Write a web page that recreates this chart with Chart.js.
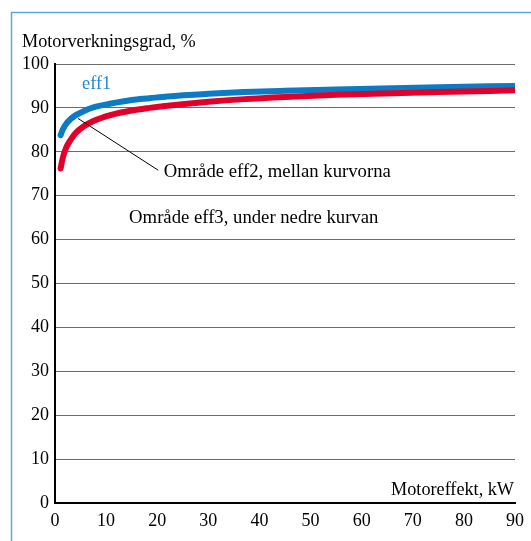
<!DOCTYPE html>
<html>
<head>
<meta charset="utf-8">
<script src="https://cdn.jsdelivr.net/npm/chart.js@4/dist/chart.umd.min.js"></script>
<style>
html,body{margin:0;padding:0;background:#fff;}
#wrap{position:relative;width:531px;height:541px;}
</style>
</head>
<body>
<div id="wrap"><canvas id="c" width="531" height="541"></canvas></div>
<script>
const power = [1.1, 1.5, 2.2, 3, 4, 5.5, 7.5, 11, 15, 18.5, 22, 30, 37, 45, 55, 75, 90];
const eff1Limit = [83.8, 85, 86.4, 87.4, 88.3, 89.2, 90.1, 91, 91.8, 92.2, 92.6, 93.2, 93.6, 93.9, 94.2, 94.7, 95.0];
const eff2Limit = [76.2, 78.5, 81, 82.6, 84.2, 85.7, 87, 88.4, 89.4, 90, 90.5, 91.4, 92, 92.5, 93, 93.6, 94.0];
const xTicks = [0, 10, 20, 30, 40, 50, 60, 70, 80, 90];
const yTicks = [0, 10, 20, 30, 40, 50, 60, 70, 80, 90, 100];
const yTitle = "Motorverkningsgrad, %";
const xTitle = "Motoreffekt, kW";
const labelEff1 = "eff1";
const labelEff2 = "Område eff2, mellan kurvorna";
const labelEff3 = "Område eff3, under nedre kurvan";

const FONT = "'Liberation Serif', 'Times New Roman', serif";

const deco = {
  id: 'deco',
  beforeDraw(chart) {
    const ctx = chart.ctx;
    ctx.save();
    ctx.strokeStyle = '#5aa8e0';
    ctx.lineWidth = 1.5;
    ctx.beginPath();
    ctx.moveTo(11.5, 545);
    ctx.lineTo(11.5, 12.5);
    ctx.lineTo(535, 12.5);
    ctx.stroke();
    ctx.restore();
  },
  afterDatasetsDraw(chart) {
    const ctx = chart.ctx;
    const xs = chart.scales.x, ys = chart.scales.y;
    const px = v => xs.getPixelForValue(v), py = v => ys.getPixelForValue(v);
    ctx.save();
    ctx.font = '18.2px ' + FONT;
    ctx.textBaseline = 'middle';
    ctx.fillStyle = '#000';
    ctx.textAlign = 'left';
    ctx.fillText(yTitle, 22, 42);
    ctx.textAlign = 'right';
    ctx.fillText(xTitle, chart.chartArea.right - 1, 490);
    ctx.textAlign = 'left';
    ctx.fillStyle = '#2589cf';
    ctx.fillText(labelEff1, px(5.3), py(95.3));
    ctx.font = '18.7px ' + FONT;
    ctx.fillStyle = '#000';
    ctx.fillText(labelEff2, px(21.3), py(75.3));
    ctx.fillText(labelEff3, px(14.5), py(64.9));
    ctx.strokeStyle = '#000';
    ctx.lineWidth = 1;
    ctx.beginPath();
    ctx.moveTo(px(4.5), py(87.6));
    ctx.lineTo(px(20.2), py(75.8));
    ctx.stroke();
    ctx.restore();
  }
};

new Chart(document.getElementById('c'), {
  type: 'line',
  data: {
    datasets: [
      {
        label: 'eff2',
        data: power.map((p, i) => ({x: p, y: eff2Limit[i]})),
        borderColor: '#e2002b',
        borderWidth: 6,
        borderCapStyle: 'round',
        pointRadius: 0,
        cubicInterpolationMode: 'monotone',
        fill: false
      },
      {
        label: 'eff1',
        data: power.map((p, i) => ({x: p, y: eff1Limit[i]})),
        borderColor: '#0a7bc4',
        borderWidth: 6,
        borderCapStyle: 'round',
        pointRadius: 0,
        cubicInterpolationMode: 'monotone',
        fill: false
      }
    ]
  },
  options: {
    responsive: false,
    animation: false,
    devicePixelRatio: 1,
    layout: { padding: { top: 64, right: 14, left: 0, bottom: 0 } },
    plugins: { legend: { display: false }, tooltip: { enabled: false } },
    scales: {
      x: {
        type: 'linear',
        min: 0, max: 90,
        afterBuildTicks: s => { s.ticks = xTicks.map(v => ({value: v})); },
        afterFit: s => { s.height = 38; },
        grid: { display: false, drawTicks: false },
        border: { color: '#000', width: 2 },
        ticks: { color: '#000', font: { family: FONT, size: 18 }, padding: 7, maxRotation: 0 }
      },
      y: {
        type: 'linear',
        min: 0, max: 100,
        afterBuildTicks: s => { s.ticks = yTicks.map(v => ({value: v})); },
        afterFit: s => { s.width = 55; },
        grid: { color: '#6a6a6a', lineWidth: 1, drawTicks: false },
        border: { color: '#000', width: 2 },
        ticks: { color: '#000', font: { family: FONT, size: 18 }, padding: 6 }
      }
    }
  },
  plugins: [deco]
});
</script>
</body>
</html>
